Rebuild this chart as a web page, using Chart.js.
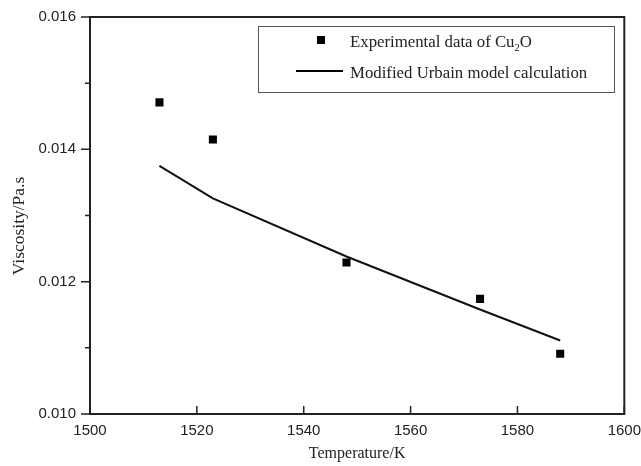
<!DOCTYPE html>
<html>
<head>
<meta charset="utf-8">
<title>Viscosity of Cu2O</title>
<script src="https://cdn.jsdelivr.net/npm/chart.js@4/dist/chart.umd.min.js"></script>
<style>
  html, body { margin: 0; padding: 0; background: #fff; }
  #wrap { width: 641px; height: 466px; }
</style>
</head>
<body>
<div id="wrap"><canvas id="chart" width="641" height="466"></canvas></div>
<script>
// measured viscosity (Pa.s) vs temperature (K)
const expTemps = [1513, 1523, 1548, 1573, 1588];
const expViscosity = [0.01471, 0.01415, 0.01229, 0.01174, 0.01091];

// modified Urbain model
const modelTemps = [1513, 1523, 1548, 1573, 1588];
const modelViscosity = [0.01375, 0.01326, 0.01238, 0.01158, 0.01111];

const xTicks = [1500, 1520, 1540, 1560, 1580, 1600];
const yTicks = [0.010, 0.012, 0.014, 0.016];
const yMinorTicks = [0.011, 0.013, 0.015];

const serif = '"Liberation Serif", "Times New Roman", serif';
const sans = '"Liberation Sans", Arial, sans-serif';
const ink = '#222';

// frame, ticks, y title and the boxed legend
const framePlugin = {
    id: 'frame',
    afterDraw(chart) {
        const ctx = chart.ctx;
        const a = chart.chartArea;
        const xs = chart.scales.x, ys = chart.scales.y;
        ctx.save();
        ctx.strokeStyle = ink;
        ctx.lineWidth = 2;
        ctx.strokeRect(a.left, a.top, a.right - a.left, a.bottom - a.top);

        ctx.lineWidth = 1.5;
        ctx.beginPath();
        xTicks.forEach(v => {
            const px = xs.getPixelForValue(v);
            ctx.moveTo(px, a.bottom);
            ctx.lineTo(px, a.bottom - 8);
        });
        yTicks.forEach(v => {
            const py = ys.getPixelForValue(v);
            ctx.moveTo(a.left, py);
            ctx.lineTo(a.left - 9, py);
        });
        yMinorTicks.forEach(v => {
            const py = ys.getPixelForValue(v);
            ctx.moveTo(a.left, py);
            ctx.lineTo(a.left - 5, py);
        });
        ctx.stroke();

        // y axis title
        ctx.save();
        ctx.translate(24, 226);
        ctx.rotate(-Math.PI / 2);
        ctx.fillStyle = ink;
        ctx.font = '17.5px ' + serif;
        ctx.textAlign = 'center';
        ctx.textBaseline = 'alphabetic';
        ctx.fillText('Viscosity/Pa.s', 0, 0);
        ctx.restore();

        // legend box
        const bx = 258, by = 26, bw = 356, bh = 66;
        ctx.lineWidth = 1;
        ctx.strokeStyle = '#555';
        ctx.strokeRect(bx + 0.5, by + 0.5, bw, bh);

        const ds = chart.data.datasets;
        ctx.fillStyle = '#000';
        ctx.fillRect(317, 36, 8, 8);
        ctx.strokeStyle = '#000';
        ctx.lineWidth = 2;
        ctx.beginPath();
        ctx.moveTo(296, 71);
        ctx.lineTo(343, 71);
        ctx.stroke();

        ctx.fillStyle = ink;
        ctx.textBaseline = 'alphabetic';
        const f = '16.8px ' + serif;
        ctx.font = f;
        // "Cu2O" with subscript 2
        const lbl = ds[0].label;
        const i = lbl.indexOf('2');
        let x = 350;
        const head = lbl.slice(0, i);
        ctx.fillText(head, x, 47);
        x += ctx.measureText(head).width;
        ctx.font = '10.5px ' + serif;
        ctx.fillText('2', x, 51);
        x += ctx.measureText('2').width;
        ctx.font = f;
        ctx.fillText(lbl.slice(i + 1), x, 47);
        ctx.fillText(ds[1].label, 350, 78);
        ctx.restore();
    }
};

new Chart(document.getElementById('chart'), {
    type: 'scatter',
    data: {
        datasets: [{
            label: 'Experimental data of Cu2O',
            data: expTemps.map((t, i) => ({ x: t, y: expViscosity[i] })),
            pointStyle: 'rect',
            pointRadius: 5.7,
            pointBorderWidth: 0,
            backgroundColor: '#000',
            borderColor: '#000',
            showLine: false
        }, {
            label: 'Modified Urbain model calculation',
            data: modelTemps.map((t, i) => ({ x: t, y: modelViscosity[i] })),
            showLine: true,
            pointRadius: 0,
            borderColor: '#111',
            borderWidth: 2,
            tension: 0
        }]
    },
    options: {
        responsive: false,
        animation: false,
        layout: { padding: { top: 17, right: 13, left: 0, bottom: 0 } },
        plugins: {
            legend: { display: false },
            tooltip: { enabled: false }
        },
        scales: {
            x: {
                type: 'linear',
                min: 1500,
                max: 1600,
                afterFit: s => { s.height = 52; },
                afterBuildTicks: s => { s.ticks = xTicks.map(v => ({ value: v })); },
                grid: { display: false },
                border: { display: false },
                ticks: {
                    color: ink,
                    font: { family: sans, size: 15 },
                    padding: 0,
                    callback: v => String(v)
                },
                title: {
                    display: true,
                    text: 'Temperature/K',
                    color: ink,
                    font: { family: serif, size: 16 },
                    padding: { top: 2, bottom: 3 }
                }
            },
            y: {
                min: 0.010,
                max: 0.016,
                afterFit: s => { s.width = 90; },
                afterBuildTicks: s => { s.ticks = yTicks.map(v => ({ value: v })); },
                grid: { display: false },
                border: { display: false },
                ticks: {
                    color: ink,
                    font: { family: sans, size: 15 },
                    padding: 6,
                    callback: v => v.toFixed(3)
                }
            }
        }
    },
    plugins: [framePlugin]
});
</script>
</body>
</html>
